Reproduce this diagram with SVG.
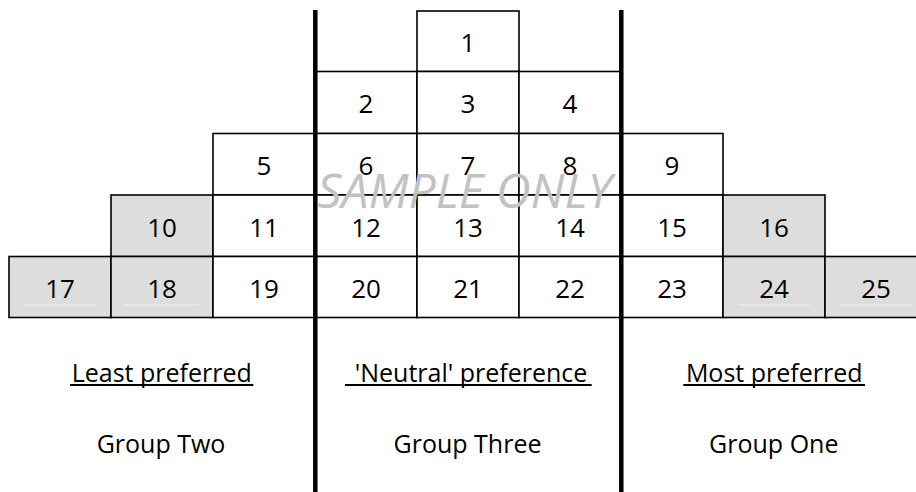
<svg xmlns="http://www.w3.org/2000/svg" width="916" height="492" viewBox="0 0 916 492">
  <style>
    .cell { fill: #ffffff; stroke: #000000; stroke-width: 1.6; }
    .cell.shaded { fill: #dddddd; }
    .num { font-family: "Open Sans", "Noto Sans", sans-serif; font-size: 26px; fill: #000000; text-anchor: middle; }
    .label { font-family: "Open Sans", "Noto Sans", sans-serif; font-size: 25px; fill: #000000; text-anchor: middle; }
    .uline { stroke: #000000; stroke-width: 1.8; }
    .divider { stroke: #000000; stroke-width: 4.5; }
    .faint { stroke: #efefef; stroke-width: 1; }
    .mark { font-family: "Open Sans", "Noto Sans", sans-serif; font-size: 48px; font-style: italic; fill: #c2c2c2; text-anchor: middle; }
  </style>

  <rect width="916" height="492" fill="#ffffff"/>

  <!-- row 1 -->
  <g id="cell-1"><rect class="cell" x="417" y="11" width="102" height="60.5"/><text class="num" x="468" y="52">1</text></g>

  <!-- row 2 -->
  <g id="cell-2"><rect class="cell" x="315" y="71.5" width="102" height="62"/><text class="num" x="366" y="112.5">2</text></g>
  <g id="cell-3"><rect class="cell" x="417" y="71.5" width="102" height="62"/><text class="num" x="468" y="112.5">3</text></g>
  <g id="cell-4"><rect class="cell" x="519" y="71.5" width="102" height="62"/><text class="num" x="570" y="112.5">4</text></g>

  <!-- row 3 -->
  <g id="cell-5"><rect class="cell" x="213" y="133.5" width="102" height="61.5"/><text class="num" x="264" y="174.5">5</text></g>
  <g id="cell-6"><rect class="cell" x="315" y="133.5" width="102" height="61.5"/><text class="num" x="366" y="174.5">6</text></g>
  <g id="cell-7"><rect class="cell" x="417" y="133.5" width="102" height="61.5"/><text class="num" x="468" y="174.5">7</text></g>
  <g id="cell-8"><rect class="cell" x="519" y="133.5" width="102" height="61.5"/><text class="num" x="570" y="174.5">8</text></g>
  <g id="cell-9"><rect class="cell" x="621" y="133.5" width="102" height="61.5"/><text class="num" x="672" y="174.5">9</text></g>

  <!-- row 4 -->
  <g id="cell-10"><rect class="cell shaded" x="111" y="195" width="102" height="61.5"/><text class="num" x="162" y="236.5">10</text></g>
  <g id="cell-11"><rect class="cell" x="213" y="195" width="102" height="61.5"/><text class="num" x="264" y="236.5">11</text></g>
  <g id="cell-12"><rect class="cell" x="315" y="195" width="102" height="61.5"/><text class="num" x="366" y="236.5">12</text></g>
  <g id="cell-13"><rect class="cell" x="417" y="195" width="102" height="61.5"/><text class="num" x="468" y="236.5">13</text></g>
  <g id="cell-14"><rect class="cell" x="519" y="195" width="102" height="61.5"/><text class="num" x="570" y="236.5">14</text></g>
  <g id="cell-15"><rect class="cell" x="621" y="195" width="102" height="61.5"/><text class="num" x="672" y="236.5">15</text></g>
  <g id="cell-16"><rect class="cell shaded" x="723" y="195" width="102" height="61.5"/><text class="num" x="774" y="236.5">16</text></g>

  <!-- row 5 -->
  <g id="cell-17"><rect class="cell shaded" x="9" y="256.5" width="102" height="61"/><line class="faint" x1="23" y1="305" x2="97" y2="305"/><text class="num" x="60" y="297.5">17</text></g>
  <g id="cell-18"><rect class="cell shaded" x="111" y="256.5" width="102" height="61"/><line class="faint" x1="125" y1="305" x2="199" y2="305"/><text class="num" x="162" y="297.5">18</text></g>
  <g id="cell-19"><rect class="cell" x="213" y="256.5" width="102" height="61"/><text class="num" x="264" y="297.5">19</text></g>
  <g id="cell-20"><rect class="cell" x="315" y="256.5" width="102" height="61"/><text class="num" x="366" y="297.5">20</text></g>
  <g id="cell-21"><rect class="cell" x="417" y="256.5" width="102" height="61"/><text class="num" x="468" y="297.5">21</text></g>
  <g id="cell-22"><rect class="cell" x="519" y="256.5" width="102" height="61"/><text class="num" x="570" y="297.5">22</text></g>
  <g id="cell-23"><rect class="cell" x="621" y="256.5" width="102" height="61"/><text class="num" x="672" y="297.5">23</text></g>
  <g id="cell-24"><rect class="cell shaded" x="723" y="256.5" width="102" height="61"/><line class="faint" x1="738" y1="305" x2="810" y2="305"/><text class="num" x="774" y="297.5">24</text></g>
  <g id="cell-25"><rect class="cell shaded" x="825" y="256.5" width="102" height="61"/><line class="faint" x1="840" y1="305" x2="912" y2="305"/><text class="num" x="876" y="297.5">25</text></g>

  <!-- group dividers -->
  <g id="dividers">
    <line class="divider" x1="315.3" y1="10" x2="315.3" y2="492"/>
    <line class="divider" x1="621.3" y1="10" x2="621.3" y2="492"/>
  </g>

  <!-- preference headings and group names -->
  <g id="group-two">
    <text class="label" x="161.7" y="382">Least preferred</text>
    <line class="uline" x1="70" y1="385" x2="253.3" y2="385"/>
    <text class="label" x="161" y="453">Group Two</text>
  </g>
  <g id="group-three">
    <text class="label" x="471" y="382">'Neutral' preference</text>
    <line class="uline" x1="345" y1="385" x2="591.7" y2="385"/>
    <text class="label" x="467.5" y="453">Group Three</text>
  </g>
  <g id="group-one">
    <text class="label" x="774.2" y="382">Most preferred</text>
    <line class="uline" x1="683.3" y1="385" x2="865" y2="385"/>
    <text class="label" x="773.8" y="453">Group One</text>
  </g>

  <!-- watermark -->
  <text class="mark" x="464.5" y="208">SAMPLE ONLY</text>
</svg>
